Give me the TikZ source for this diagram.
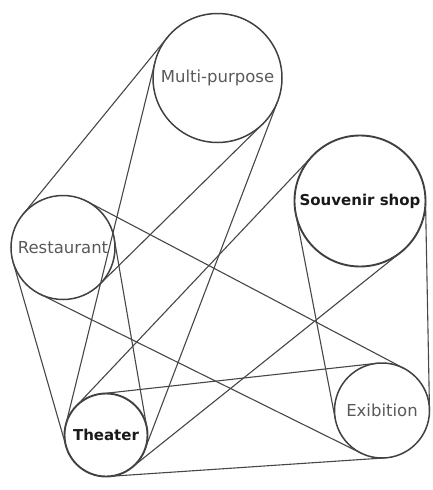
\documentclass[tikz,border=0pt]{standalone}
\usepackage{fontspec}
\setmainfont{DejaVu Sans}
\begin{document}
\begin{tikzpicture}[x=1pt,y=-1pt,
  room/.style={circle,draw=black!75,line width=1.5pt,inner sep=0pt,outer sep=0pt,
    text=black!65,font=\fontsize{16.5}{18}\selectfont},
  roomdark/.style={room,line width=1.9pt,text=black!90,font=\fontsize{15}{18}\selectfont\bfseries},
  link/.style={draw=black!72,line width=1.1pt}]
\useasboundingbox (0,0) rectangle (433,490);
\node[room,minimum size=129pt] (M) at (217.5,78) {Multi-purpose};
\node[roomdark,minimum size=131pt] (S) at (360,201) {Souvenir shop};
\node[room,minimum size=104pt] (R) at (63,247.5) {Restaurant};
\node[roomdark,minimum size=83pt] (T) at (106,435) {Theater};
\node[room,minimum size=95pt] (E) at (382,410.5) {Exibition};
% M--R
\draw[link] (M.140.78) -- (R.140.78);
\draw[link] (M.314.52) -- (R.314.52);
% M--T
\draw[link] (M.166.19) -- (T.166.19);
\draw[link] (M.339.13) -- (T.339.13);
% R--T
\draw[link] (R.9.79) -- (T.9.79);
\draw[link] (R.196.05) -- (T.196.05);
% R--E
\draw[link] (R.62.22) -- (E.62.22);
\draw[link] (R.243.66) -- (E.243.66);
% S--T
\draw[link] (S.308.67) -- (T.308.67);
\draw[link] (S.136.63) -- (T.136.63);
% S--E
\draw[link] (S.1.1) -- (E.1.1);
\draw[link] (S.190.9) -- (E.190.9);
% T--E
\draw[link] (T.96.31) -- (E.96.31);
\draw[link] (T.273.83) -- (E.273.83);
\end{tikzpicture}
\end{document}
